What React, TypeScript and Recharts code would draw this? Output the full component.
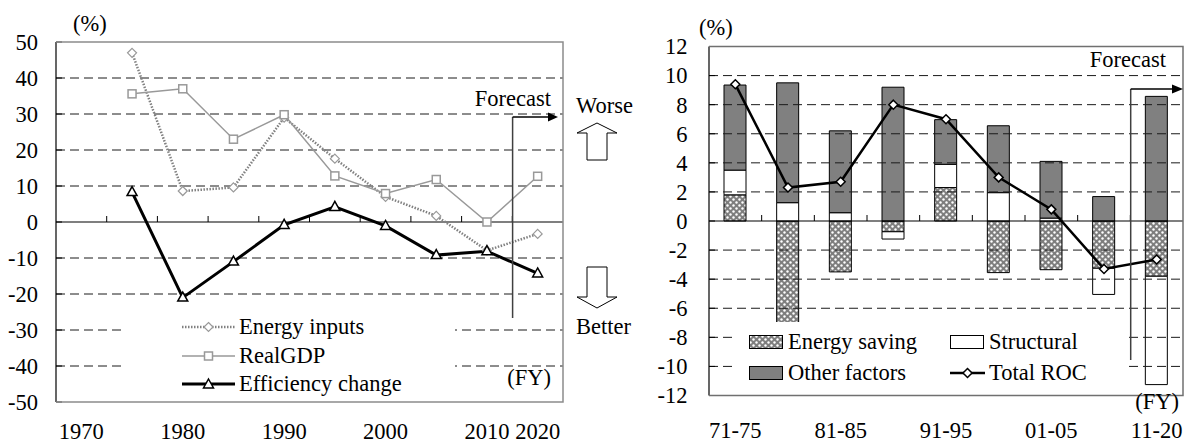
import React from 'react';
import { LineChart, Line, ComposedChart, Bar, XAxis, YAxis, ReferenceLine, Legend } from 'recharts';

// left chart: rate of change by fiscal year
const years = ['1970', '1975', '1980', '1985', '1990', '1995', '2000', '2005', '2010', '2020'];
const energyInputs = [null, 47, 8.6, 9.6, 29, 17.6, 7.0, 1.7, -7.9, -3.3];
const realGdp = [null, 35.6, 37.0, 23.0, 29.8, 12.8, 7.9, 11.8, 0, 12.7];
const efficiencyChange = [null, 8.3, -21.0, -11.0, -0.8, 4.2, -1.1, -9.2, -8.1, -14.3];
const leftTicks = [-50, -40, -30, -20, -10, 0, 10, 20, 30, 40, 50];
const leftGrid = [-40, -30, -20, -10, 10, 20, 30, 40];
const leftOrder = ['energy', 'gdp', 'eff'];

// right chart: factor breakdown by period
const periods = ['71-75', '76-80', '81-85', '86-90', '91-95', '96-00', '01-05', '06-10', '11-20'];
const energySaving = [1.8, -7.05, -3.5, -0.74, 2.3, -3.55, -3.35, -3.25, -3.8];
const structural = [1.7, 1.26, 0.57, -0.5, 1.6, 1.95, 0.2, -1.8, -7.45];
const otherFactors = [5.85, 8.24, 5.63, 9.2, 3.07, 4.6, 3.9, 1.68, 8.57];
const totalRoc = [9.4, 2.3, 2.7, 8.0, 7.0, 3.0, 0.8, -3.3, -2.65];
const rightTicks = [-12, -10, -8, -6, -4, -2, 0, 2, 4, 6, 8, 10, 12];
const rightGrid = [-10, -8, -6, -4, -2, 2, 4, 6, 8, 10];
const rightOrder = ['saving', 'structural', 'other', 'roc'];

const leftRows = years.map((year, i) => ({
  year,
  energy: energyInputs[i],
  gdp: realGdp[i],
  eff: efficiencyChange[i],
}));

const rightRows = periods.map((period, i) => ({
  period,
  saving: energySaving[i],
  structural: structural[i],
  other: otherFactors[i],
  roc: totalRoc[i],
}));

const FONT = '"Liberation Serif", "Times New Roman", serif';
const FS = 22.5;
const GRID = '#1a1a1a';

type Geo = { left: number; right: number; top: number; bottom: number; min: number; max: number; n: number };
const LG: Geo = { left: 56, right: 563, top: 42, bottom: 402, min: -50, max: 50, n: 10 };
const RG: Geo = { left: 109, right: 583, top: 46.5, bottom: 395.5, min: -12, max: 12, n: 9 };
const zeroOf = (g: Geo) => g.top + (g.max / (g.max - g.min)) * (g.bottom - g.top);

const makeXTick = (g: Geo, show: (v: string, i: number) => boolean, baseline: number) => (props: any) => {
  const { x, payload, index } = props;
  const band = (g.right - g.left) / g.n;
  const bx = x - band / 2;
  const z = zeroOf(g);
  return (
    <g>
      {index > 0 && <line x1={bx} x2={bx} y1={z} y2={z - 6} stroke="#000" strokeWidth={1} />}
      {show(payload.value, index) && (
        <text x={x} y={baseline} textAnchor="middle" fontSize={FS} fontFamily={FONT} fill="#000">
          {payload.value}
        </text>
      )}
    </g>
  );
};

const makeYTick = (g: Geo, gap: number) => (props: any) => {
  const { y, payload } = props;
  return (
    <g>
      <line x1={g.left} x2={g.left + 6} y1={y} y2={y} stroke="#000" strokeWidth={1} />
      <text x={g.left - gap} y={y} dy="0.35em" textAnchor="end" fontSize={FS} fontFamily={FONT} fill="#000">
        {payload.value}
      </text>
    </g>
  );
};

const Diamond = (props: any) => {
  const { cx, cy, size = 4.5, mStroke = '#000', mWidth = 1.2 } = props;
  if (cx == null || cy == null) return null;
  return (
    <polygon
      points={`${cx},${cy - size} ${cx + size},${cy} ${cx},${cy + size} ${cx - size},${cy}`}
      fill="#fff"
      stroke={mStroke}
      strokeWidth={mWidth}
    />
  );
};

const Square = (props: any) => {
  const { cx, cy, size = 8, mStroke = '#999', mWidth = 1.5 } = props;
  if (cx == null || cy == null) return null;
  return <rect x={cx - size / 2} y={cy - size / 2} width={size} height={size} fill="#fff" stroke={mStroke} strokeWidth={mWidth} />;
};

const Triangle = (props: any) => {
  const { cx, cy } = props;
  if (cx == null || cy == null) return null;
  return (
    <polygon
      points={`${cx},${cy - 5.5} ${cx + 5},${cy + 3.5} ${cx - 5},${cy + 3.5}`}
      fill="#fff"
      stroke="#000"
      strokeWidth={1.5}
    />
  );
};

const leftIcon = (key: string) => {
  if (key === 'energy')
    return (
      <>
        <line x1={0} x2={53} y1={7} y2={7} stroke="#808080" strokeWidth={2.5} strokeDasharray="1.5 1.5" />
        <Diamond cx={26.5} cy={7} size={4.5} mStroke="#999" />
      </>
    );
  if (key === 'gdp')
    return (
      <>
        <line x1={0} x2={53} y1={7} y2={7} stroke="#999" strokeWidth={1.5} />
        <Square cx={26.5} cy={7} />
      </>
    );
  return (
    <>
      <line x1={0} x2={53} y1={7} y2={7} stroke="#000" strokeWidth={3} />
      <Triangle cx={26.5} cy={7.5} />
    </>
  );
};

const byOrder = (items: any[], order: string[]) =>
  [...items].sort((a, b) => order.indexOf(a.dataKey) - order.indexOf(b.dataKey));

const LeftLegend = (props: any) => {
  const items = byOrder(props.payload || [], leftOrder);
  return (
    <div style={{ paddingLeft: 56, paddingTop: 1, fontFamily: FONT }}>
      {items.map((p: any) => (
        <div key={p.dataKey} style={{ display: 'flex', alignItems: 'center', height: 28.5 }}>
          <svg width={53} height={14} style={{ overflow: 'visible' }}>
            {leftIcon(p.dataKey)}
          </svg>
          <span style={{ marginLeft: 4, fontSize: FS, lineHeight: '22px', color: '#000' }}>{p.value}</span>
        </div>
      ))}
    </div>
  );
};

const HatchDef = ({ id }: { id: string }) => (
  <pattern id={id} width={6} height={6} patternUnits="userSpaceOnUse">
    <rect width={6} height={6} fill="#7e7e7e" />
    <circle cx={1.5} cy={1.5} r={1.2} fill="#fff" />
    <circle cx={4.5} cy={4.5} r={1.2} fill="#fff" />
  </pattern>
);

const rightIcon = (key: string) => {
  if (key === 'roc')
    return (
      <>
        <line x1={0} x2={35} y1={7} y2={7} stroke="#000" strokeWidth={2.5} />
        <Diamond cx={17.5} cy={7} size={4.5} mStroke="#000" mWidth={1.5} />
      </>
    );
  const fill = key === 'saving' ? 'url(#hatchLegend)' : key === 'structural' ? '#fff' : '#808080';
  return (
    <>
      <defs>
        <HatchDef id="hatchLegend" />
      </defs>
      <rect x={0.5} y={0.5} width={33} height={13} fill={fill} stroke="#000" strokeWidth={1} />
    </>
  );
};

const RightLegend = (props: any) => {
  const items = byOrder(props.payload || [], rightOrder);
  return (
    <div
      style={{
        paddingLeft: 13,
        paddingTop: 4,
        fontFamily: FONT,
        display: 'grid',
        gridTemplateColumns: '201px 180px',
      }}
    >
      {items.map((p: any) => (
        <div key={p.dataKey} style={{ display: 'flex', alignItems: 'center', height: 31.6 }}>
          <svg width={35} height={14} style={{ overflow: 'visible' }}>
            {rightIcon(p.dataKey)}
          </svg>
          <span style={{ marginLeft: 4, fontSize: FS, lineHeight: '22px', color: '#000' }}>{p.value}</span>
        </div>
      ))}
    </div>
  );
};

const txt = { fontSize: FS, fontFamily: FONT, fill: '#000' };

const Overlay = () => (
  <svg width={1184} height={444} style={{ position: 'absolute', left: 0, top: 0, pointerEvents: 'none' }}>
    {/* left frame */}
    <polyline points="56,42 563,42 563,402 56,402" fill="none" stroke="#8c8c8c" strokeWidth={1.5} />
    {/* right frame */}
    <polyline points="709,46.5 1183,46.5 1183,395.5 709,395.5" fill="none" stroke="#707070" strokeWidth={1.5} />

    {/* forecast markers */}
    <line x1={512.6} x2={512.6} y1={117} y2={318} stroke="#404040" strokeWidth={1.5} />
    <line x1={512.6} x2={549} y1={117} y2={117} stroke="#000" strokeWidth={1.5} />
    <polygon points="548,112.5 558,117 548,121.5" fill="#000" />
    <line x1={1130.7} x2={1130.7} y1={89} y2={360} stroke="#404040" strokeWidth={1.5} />
    <line x1={1130.7} x2={1173} y1={89} y2={89} stroke="#000" strokeWidth={1.5} />
    <polygon points="1172,84.5 1183,89 1172,93.5" fill="#000" />

    {/* worse / better arrows */}
    <polygon points="597,123 617,133 607,133 607,160 587,160 587,133 577,133" fill="#fff" stroke="#000" strokeWidth={1} />
    <polygon points="587,267 607,267 607,297 617,297 597,308 577,297 587,297" fill="#fff" stroke="#000" strokeWidth={1} />

    <text x={576} y={113} {...txt}>Worse</text>
    <text x={576} y={334} {...txt}>Better</text>
    <text x={73} y={31} {...txt}>(%)</text>
    <text x={699} y={35} {...txt}>(%)</text>
    <text x={551} y={106} textAnchor="end" {...txt}>Forecast</text>
    <text x={1166} y={67} textAnchor="end" {...txt}>Forecast</text>
    <text x={551} y={385} textAnchor="end" {...txt}>(FY)</text>
    <text x={1179} y={409} textAnchor="end" {...txt}>(FY)</text>
  </svg>
);

const leftXTick = makeXTick(LG, (v) => Number(v) % 10 === 0, 439);
const rightXTick = makeXTick(RG, (_v, i) => i % 2 === 0, 438);

export default function App() {
  return (
    <div style={{ position: 'absolute', left: 0, top: 0, width: 1184, height: 444, background: '#fff', fontFamily: FONT }}>
      <div style={{ position: 'absolute', left: 0, top: 0 }}>
        <LineChart width={600} height={444} data={leftRows} margin={{ top: LG.top, right: 600 - LG.right, bottom: 0, left: 0 }}>
          <XAxis
            dataKey="year"
            scale="band"
            interval={0}
            axisLine={false}
            tickLine={false}
            height={444 - LG.bottom}
            tick={leftXTick}
          />
          <YAxis
            domain={[LG.min, LG.max]}
            ticks={leftTicks}
            width={LG.left}
            axisLine={{ stroke: '#000', strokeWidth: 1.2 }}
            tickLine={false}
            tick={makeYTick(LG, 18)}
          />
          {leftGrid.map((v) => (
            <ReferenceLine key={v} y={v} stroke={GRID} strokeDasharray="9 5" />
          ))}
          <ReferenceLine y={0} stroke="#000" strokeWidth={1.2} />
          <Line
            dataKey="energy"
            name="Energy inputs"
            stroke="#808080"
            strokeWidth={2.5}
            strokeDasharray="1.5 1.5"
            dot={<Diamond size={4.5} mStroke="#999" />}
            isAnimationActive={false}
          />
          <Line
            dataKey="gdp"
            name="RealGDP"
            stroke="#999"
            strokeWidth={1.5}
            dot={<Square />}
            isAnimationActive={false}
          />
          <Line
            dataKey="eff"
            name="Efficiency change"
            stroke="#000"
            strokeWidth={3}
            dot={<Triangle />}
            isAnimationActive={false}
          />
          <Legend
            layout="horizontal"
            verticalAlign="middle"
            align="center"
            content={LeftLegend}
            wrapperStyle={{ position: 'absolute', left: 126, top: 312, width: 329, height: 88, background: '#fff' }}
          />
        </LineChart>
      </div>
      <div style={{ position: 'absolute', left: 600, top: 0 }}>
        <ComposedChart
          width={584}
          height={444}
          data={rightRows}
          stackOffset="sign"
          margin={{ top: RG.top, right: 584 - RG.right, bottom: 0, left: 0 }}
        >
          <defs>
            <HatchDef id="hatchBar" />
          </defs>
          <XAxis dataKey="period" interval={0} axisLine={false} tickLine={false} height={444 - RG.bottom} tick={rightXTick} />
          <YAxis
            domain={[RG.min, RG.max]}
            ticks={rightTicks}
            width={RG.left}
            axisLine={{ stroke: '#000', strokeWidth: 1.2 }}
            tickLine={false}
            tick={makeYTick(RG, 21.5)}
          />
          {rightGrid.map((v) => (
            <ReferenceLine key={v} y={v} stroke={GRID} strokeDasharray="9 5" />
          ))}
          <Bar dataKey="saving" name="Energy saving" stackId="s" barSize={22} fill="url(#hatchBar)" stroke="#000" strokeWidth={1} isAnimationActive={false} />
          <Bar dataKey="structural" name="Structural" stackId="s" barSize={22} fill="#fff" stroke="#000" strokeWidth={1} isAnimationActive={false} />
          <Bar dataKey="other" name="Other factors" stackId="s" barSize={22} fill="#808080" stroke="#000" strokeWidth={1} isAnimationActive={false} />
          <ReferenceLine y={0} stroke="#000" strokeWidth={1.2} />
          <Line
            dataKey="roc"
            name="Total ROC"
            stroke="#000"
            strokeWidth={2.5}
            dot={<Diamond size={4.5} mStroke="#000" mWidth={1.5} />}
            isAnimationActive={false}
          />
          <Legend
            layout="horizontal"
            verticalAlign="middle"
            align="center"
            content={RightLegend}
            wrapperStyle={{ position: 'absolute', left: 136, top: 322, width: 390, height: 68, background: '#fff' }}
          />
        </ComposedChart>
      </div>
      <Overlay />
    </div>
  );
}
